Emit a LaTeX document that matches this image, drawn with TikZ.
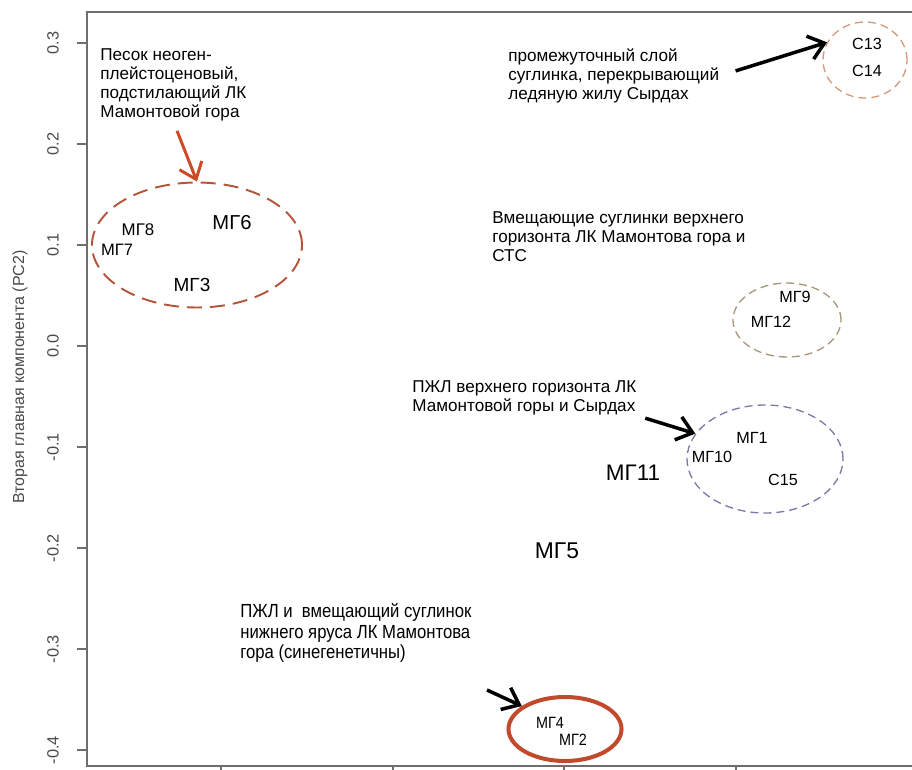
\documentclass[tikz,border=0pt]{standalone}
\usepackage{fontspec}
\setmainfont{Liberation Sans}
\newfontfamily\narrowfont[FakeStretch=0.88]{Liberation Sans}
\usetikzlibrary{shapes.geometric,arrows.meta}
\definecolor{axisgrey}{HTML}{6E6E6E}
\definecolor{ticktext}{HTML}{4A4A4A}
\definecolor{sandline}{HTML}{B4553A}
\definecolor{sandarrow}{HTML}{CC4A25}
\definecolor{loamline}{HTML}{D49A7C}
\definecolor{oliveline}{HTML}{A8967A}
\definecolor{iceline}{HTML}{7A7AAA}
\definecolor{lowline}{HTML}{C24A2C}
\begin{document}
\begin{tikzpicture}[>={Straight Barb[length=3mm,width=4.8mm]},
    note/.style={align=left,anchor=west,inner sep=0pt,font=\fontsize{9.75}{10.8}\selectfont},
    lbl/.style={inner sep=0pt,font=\fontsize{9.2}{10}\selectfont},
    big/.style={inner sep=0pt,font=\fontsize{12.8}{14}\selectfont},
    grp/.style={ellipse,draw,inner sep=0pt,line width=0.75pt,dash pattern=on 0.16cm off 0.1cm}]
    \useasboundingbox (0,0) rectangle (18.24,-15.38);
    \clip (0,0) rectangle (18.24,-15.38);
    % axes
    \draw[axisgrey,line width=0.85pt] (18.6,-0.24) -- (1.74,-0.24) -- (1.74,-15.32) -- (18.6,-15.32);
    \foreach \v/\t [count=\i] in {0.3/0.3,0.2/0.2,0.1/0.1,0/0.0,-0.1/-0.1,-0.2/-0.2,-0.3/-0.3,-0.4/-0.4} {
        \draw[axisgrey,line width=0.85pt] (1.54,{-6.92+20.2*\v}) -- (1.74,{-6.92+20.2*\v});
        \node[rotate=90,text=ticktext,inner sep=0pt,font=\fontsize{9.3}{10}\selectfont] (yt\i) at (1.06,{-6.92+20.2*\v}) {\t};
    }
    \foreach \x in {4.42,7.86,11.28,14.72}
        \draw[axisgrey,line width=0.85pt] (\x,-15.32) -- (\x,-15.6);
    \node[rotate=90,text=ticktext,font=\fontsize{9.1}{10}\selectfont] (ylab) at (0.40,-7.54) {Вторая главная компонента (PC2)};
    % groups
    \node[grp,draw=sandline,line width=1.1pt,dash pattern=on 0.3cm off 0.16cm,minimum width=4.2cm,minimum height=2.5cm] (sandgrp) at (3.94,-4.90) {};
    \node[grp,draw=loamline,minimum width=1.68cm,minimum height=1.52cm] (loamgrp) at (17.30,-1.20) {};
    \node[grp,draw=oliveline,minimum width=2.16cm,minimum height=1.48cm] (hostgrp) at (15.74,-6.40) {};
    \node[grp,draw=iceline,minimum width=3.12cm,minimum height=2.16cm] (icegrp) at (15.30,-9.18) {};
    \node[ellipse,draw=lowline,line width=2.3pt,inner sep=0pt,minimum width=2.26cm,minimum height=1.28cm] (lowgrp) at (11.30,-14.58) {};
    % samples
    \node[lbl,font=\fontsize{9.6}{10}\selectfont] (mg8) at (2.76,-4.60) {МГ8};
    \node[lbl,font=\fontsize{9.4}{10}\selectfont] (mg7) at (2.34,-5.00) {МГ7};
    \node[lbl,font=\fontsize{11.5}{12}\selectfont] (mg6) at (4.64,-4.46) {МГ6};
    \node[lbl,font=\fontsize{10.8}{12}\selectfont] (mg3) at (3.84,-5.70) {МГ3};
    \node[lbl] (c13) at (17.34,-0.88) {С13};
    \node[lbl] (c14) at (17.34,-1.42) {С14};
    \node[lbl] (mg9) at (15.90,-5.94) {МГ9};
    \node[lbl] (mg12) at (15.42,-6.44) {МГ12};
    \node[lbl] (mg1) at (15.04,-8.76) {МГ1};
    \node[lbl] (mg10) at (14.24,-9.14) {МГ10};
    \node[lbl] (c15) at (15.66,-9.60) {С15};
    \node[big] (mg11) at (12.66,-9.46) {МГ11};
    \node[big,font=\fontsize{13}{14}\selectfont] (mg5) at (11.14,-11.02) {МГ5};
    \node[lbl,font=\narrowfont\fontsize{9.3}{10}\selectfont] (mg4) at (11.00,-14.46) {МГ4};
    \node[lbl,font=\narrowfont\fontsize{9.3}{10}\selectfont] (mg2) at (11.46,-14.80) {МГ2};
    % notes
    \node[note] (sand) at (2.0,-1.70) {Песок неоген-\\плейстоценовый,\\подстилающий ЛК\\Мамонтовой гора};
    \node[note] (inter) at (10.16,-1.52) {промежуточный слой\\суглинка, перекрывающий\\ледяную жилу Сырдах};
    \node[note] (host) at (9.84,-4.74) {Вмещающие суглинки верхнего\\горизонта ЛК Мамонтова гора и\\СТС};
    \node[note] (upper) at (8.24,-7.96) {ПЖЛ верхнего горизонта ЛК\\Мамонтовой горы и Сырдах};
    \node[note,font=\narrowfont\fontsize{10.8}{11.7}\selectfont] (lower) at (4.80,-12.66) {ПЖЛ и\ \ вмещающий суглинок\\нижнего яруса ЛК Мамонтова\\гора (синегенетичны)};
    \coordinate (lowtail) at (9.74,-13.80);
    % arrows
    \draw[->,sandarrow,line width=1.7pt,shorten <=0.2cm] (sand.south) -- (sandgrp.north);
    \draw[->,line width=2pt,shorten <=0.34cm] (inter.east) -- (loamgrp.155);
    \draw[->,line width=2pt,shorten <=0.18cm] (upper.south east) -- (icegrp.160);
    \draw[->,line width=2pt] (lowtail) -- (lowgrp.152);
\end{tikzpicture}
\end{document}
